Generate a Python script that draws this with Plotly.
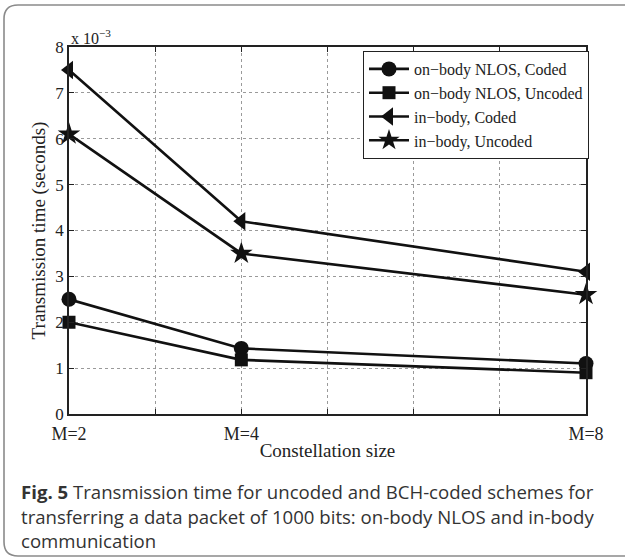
import plotly.graph_objects as go

# Data (transmission time, in units of 1e-3 seconds)
constellation = [2, 4, 8]
onbody_coded = [2.5, 1.43, 1.1]
onbody_uncoded = [2.0, 1.18, 0.9]
inbody_coded = [7.5, 4.2, 3.1]
inbody_uncoded = [6.1, 3.5, 2.6]

series_names = ["on\u2212body NLOS, Coded", "on\u2212body NLOS, Uncoded",
                "in\u2212body, Coded", "in\u2212body, Uncoded"]
series_vals = [onbody_coded, onbody_uncoded, inbody_coded, inbody_uncoded]
symbols = ["circle", "square", "triangle-left", "star"]
sizes = [15, 13, 16, 17]

x_tickvals = [2, 3, 4, 5, 6, 7, 8]
x_ticktext = ["M=2", "", "M=4", "", "", "", "M=8"]
y_tickvals = [0, 1, 2, 3, 4, 5, 6, 7, 8]

caption_lines = [
    "<b>Fig. 5</b> Transmission time for uncoded and BCH-coded schemes for",
    "transferring a data packet of 1000 bits: on-body NLOS and in-body",
    "communication",
]

W, H = 625, 558
L, R, T, B = 69, 586, 47, 414
pw, ph = R - L, B - T

def px(x):
    return (x - L) / pw

def py(y):
    return (B - y) / ph

fig = go.Figure()
for name, vals, sym, sz in zip(series_names, series_vals, symbols, sizes):
    fig.add_trace(go.Scatter(
        x=constellation, y=vals, name=name, mode="lines+markers",
        line=dict(color="#111111", width=2.6),
        marker=dict(symbol=sym, size=sz, color="#111111", line=dict(width=0)),
        cliponaxis=False,
    ))

serif = "Liberation Serif, Times New Roman, serif"
axis_common = dict(
    showline=True, linecolor="#222222", linewidth=1.5, mirror="ticks",
    ticks="inside", ticklen=5, tickcolor="#222222",
    showgrid=True, gridcolor="#9a9a9a", gridwidth=1, griddash="dot",
    zeroline=False,
)

fig.update_xaxes(range=[2, 8], tickvals=x_tickvals, ticktext=x_ticktext,
                 tickfont=dict(family=serif, size=18, color="#222222"),
                 ticklabelstandoff=3,
                 title=dict(text="Constellation size", font=dict(family=serif, size=19, color="#222222"), standoff=0),
                 **axis_common)
fig.update_yaxes(range=[0, 8], tickvals=y_tickvals,
                 tickfont=dict(family=serif, size=17, color="#222222"),
                 title=dict(text="Transmission time (seconds)", font=dict(family=serif, size=19, color="#222222"), standoff=5),
                 **axis_common)

annotations = [
    dict(text="x 10<sup>\u22123</sup>", x=px(69), y=py(37), xref="paper", yref="paper",
         xanchor="left", yanchor="middle", showarrow=False,
         font=dict(family=serif, size=16, color="#222222")),
]
cap_y = [491, 516, 540]
for t, yy in zip(caption_lines, cap_y):
    annotations.append(dict(text=t, x=px(19), y=py(yy), xref="paper", yref="paper",
                            xanchor="left", yanchor="middle", showarrow=False,
                            font=dict(family="Open Sans, Noto Sans, sans-serif", size=18.6, color="#333333")))

# rounded frame around the figure (cut at right & bottom)
path = (f"M {px(640)},{py(5)} L {px(18)},{py(5)} Q {px(4)},{py(5)} {px(4)},{py(19)} "
        f"L {px(4)},{py(542)} Q {px(4)},{py(556)} {px(18)},{py(556)} L {px(640)},{py(556)}")
shapes = [dict(type="path", path=path, xref="paper", yref="paper",
               line=dict(color="#8a8a8a", width=1.6), layer="below")]

fig.update_layout(
    width=W, height=H,
    margin=dict(l=L, r=W - R, t=T, b=H - B),
    paper_bgcolor="white", plot_bgcolor="white",
    showlegend=True,
    legend=dict(x=px(589), y=py(51), xanchor="right", yanchor="top",
                bgcolor="white", bordercolor="#222222", borderwidth=1,
                font=dict(family=serif, size=16, color="#222222"),
                itemwidth=40, tracegroupgap=0),
    annotations=annotations, shapes=shapes,
)

fig.write_html("out.html")
